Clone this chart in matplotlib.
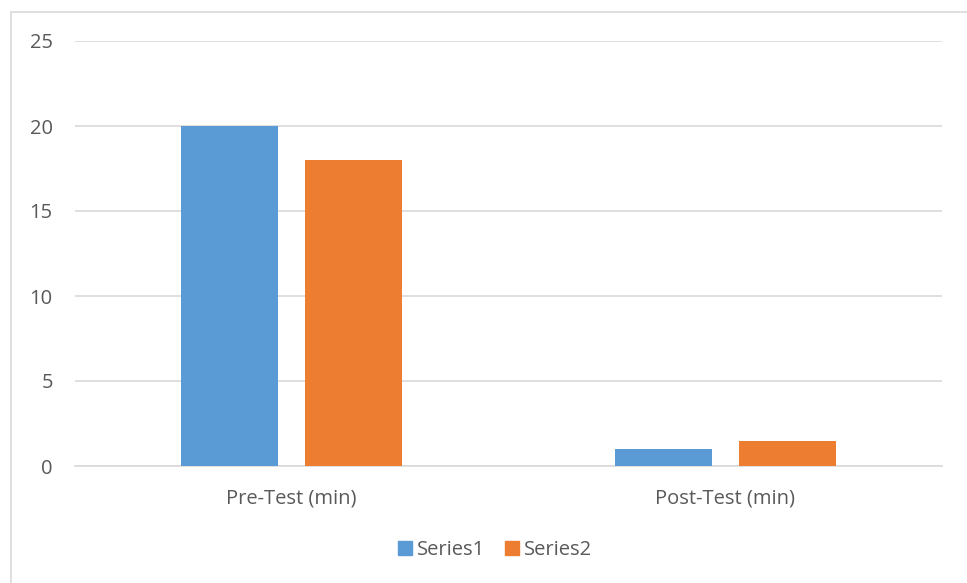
import matplotlib
matplotlib.use("Agg")
import matplotlib.pyplot as plt
from matplotlib.patches import Rectangle
import numpy as np

categories = ["Pre-Test (min)", "Post-Test (min)"]
series1 = [20, 1]
series2 = [18, 1.5]
series_names = ["Series1", "Series2"]
yticks = [0, 5, 10, 15, 20, 25]

blue = "#5B9BD5"
orange = "#ED7D31"
grid = "#D9D9D9"
text = "#595959"

plt.rcParams["font.family"] = ["Open Sans", "DejaVu Sans"]

W, H = 967, 583
fig = plt.figure(figsize=(W / 100, H / 100), dpi=100)
fig.patch.set_facecolor("white")

# chart-area border
fig.add_artist(Rectangle((10.5 / W, -0.05), (W + 20) / W, 1 - 11.5 / H + 0.05,
                         transform=fig.transFigure, fill=False,
                         edgecolor=grid, linewidth=1.2))

ax = fig.add_axes([75 / W, 1 - 466 / H, (942 - 75) / W, (466 - 41) / H])
x = np.arange(len(categories))
bw = 0.224
off = 0.143
ax.bar(x - off, series1, bw, color=blue, label=series_names[0], zorder=3)
ax.bar(x + off, series2, bw, color=orange, label=series_names[1], zorder=3)

ax.set_xlim(-0.5, len(categories) - 0.5)
ax.set_ylim(0, 25)
ax.set_yticks(yticks)
ax.set_xticks(x)
ax.set_xticklabels(categories)
ax.yaxis.grid(True, color=grid, linewidth=1.2, zorder=0)
ax.set_axisbelow(True)
for s in ["top", "right", "left"]:
    ax.spines[s].set_visible(False)
ax.spines["bottom"].set_color(grid)
ax.spines["bottom"].set_linewidth(1.2)
ax.tick_params(axis="both", length=0, labelsize=14.5, colors=text)
ax.tick_params(axis="y", pad=16)
ax.tick_params(axis="x", pad=16)

handles = [Rectangle((0, 0), 1, 1, color=blue), Rectangle((0, 0), 1, 1, color=orange)]
leg = fig.legend(handles, series_names, loc="center", bbox_to_anchor=(495 / W, 1 - 550 / H),
                 ncol=2, frameon=False, fontsize=14.5, handlelength=0.68, handleheight=0.68,
                 handletextpad=0.25, columnspacing=1.0)
for t in leg.get_texts():
    t.set_color(text)

fig.savefig("out.png", dpi=100)
